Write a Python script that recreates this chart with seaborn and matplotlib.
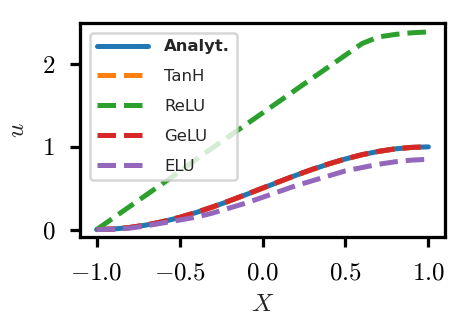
import matplotlib
matplotlib.use("Agg")
import matplotlib.pyplot as plt
import seaborn as sns
import pandas as pd

# values
X = [-1.0, -0.9, -0.8, -0.7, -0.6, -0.5, -0.4, -0.3, -0.2, -0.1, 0.0,
     0.1, 0.2, 0.3, 0.4, 0.5, 0.6, 0.7, 0.8, 0.9, 1.0]
analyt = [0.0, 0.006, 0.025, 0.055, 0.096, 0.146, 0.206, 0.273, 0.346, 0.422, 0.5,
          0.578, 0.655, 0.727, 0.794, 0.854, 0.905, 0.946, 0.976, 0.994, 1.0]
tanh = [0.0, 0.006, 0.024, 0.054, 0.095, 0.145, 0.205, 0.272, 0.345, 0.421, 0.499,
        0.577, 0.654, 0.726, 0.793, 0.853, 0.904, 0.945, 0.975, 0.993, 0.999]
relu = [0.0, 0.14, 0.28, 0.42, 0.56, 0.70, 0.85, 0.99, 1.13, 1.27, 1.41,
        1.55, 1.69, 1.83, 1.97, 2.11, 2.25, 2.33, 2.36, 2.38, 2.39]
gelu = [0.0, 0.007, 0.026, 0.056, 0.097, 0.148, 0.208, 0.275, 0.348, 0.424, 0.502,
        0.580, 0.657, 0.729, 0.795, 0.855, 0.906, 0.946, 0.976, 0.994, 1.0]
elu = [0.0, 0.004, 0.017, 0.045, 0.08, 0.115, 0.15, 0.20, 0.26, 0.32, 0.39,
       0.46, 0.53, 0.59, 0.65, 0.71, 0.75, 0.79, 0.82, 0.84, 0.85]

labels = ["Analyt.", "TanH", "ReLU", "GeLU", "ELU"]
series = [analyt, tanh, relu, gelu, elu]
styles = ["-", "--", "--", "--", "--"]

sns.set_style("ticks")
plt.rcParams["font.family"] = "serif"
plt.rcParams["font.serif"] = ["cmr10"]
plt.rcParams["axes.formatter.use_mathtext"] = True
plt.rcParams["mathtext.fontset"] = "cm"

fig = plt.figure(figsize=(455 / 180, 322 / 180), dpi=180)
ax = fig.add_axes([0.176, 0.264, 0.802, 0.665])
pal = sns.color_palette("tab10")

for i in range(len(labels)):
    sns.lineplot(x=X, y=series[i], ax=ax, label=labels[i], color=pal[i],
                 linestyle=styles[i], linewidth=2)

ax.set_xlim(-1.1, 1.1)
ax.set_ylim(-0.09, 2.5)
ax.set_xticks([-1.0, -0.5, 0.0, 0.5, 1.0])
ax.set_yticks([0, 1, 2])
ax.set_xlabel("$X$", fontsize=10, labelpad=4)
ax.set_ylabel("$u$", fontsize=10, labelpad=5)
ax.tick_params(labelsize=10, length=4, width=1.3, pad=6, colors="black")
for s in ax.spines.values():
    s.set_linewidth(1.3)
    s.set_color("black")

leg = ax.legend(loc="upper left", prop={"family": "DejaVu Sans", "size": 6.6},
                handlelength=3.1, handletextpad=1.0, labelspacing=0.9,
                borderaxespad=0.6, frameon=True)
leg.get_texts()[0].set_fontweight("bold")
leg.get_frame().set_edgecolor("#cccccc")

fig.savefig("out.png", dpi=180)
